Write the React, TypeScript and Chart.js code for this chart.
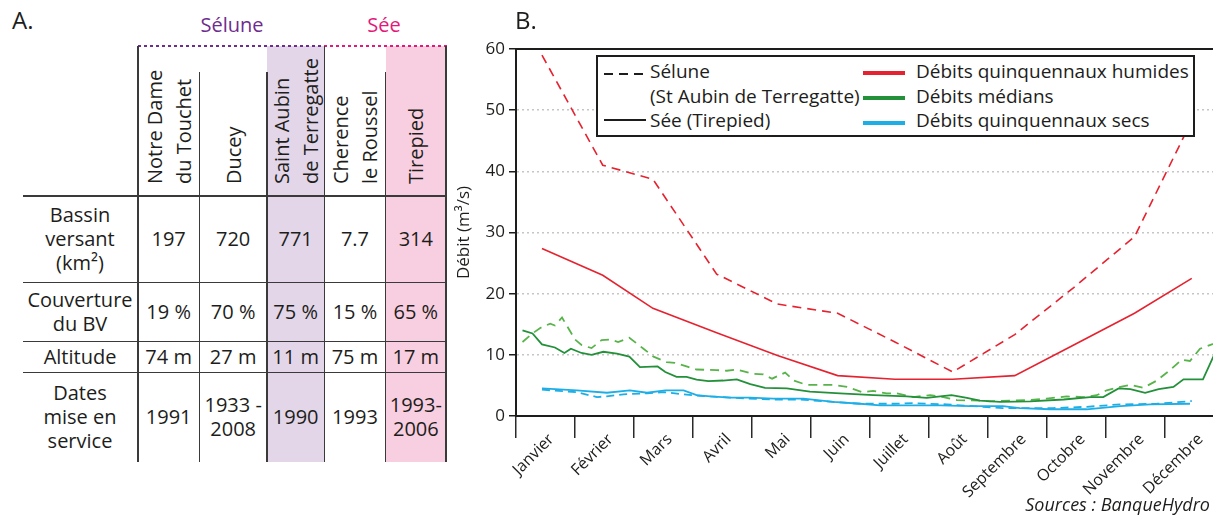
import React, { useEffect, useRef } from 'react';
import { Chart, registerables } from 'chart.js';

Chart.register(...registerables);

// ---------- Chart data ----------
const MONTHS = ['Janvier', 'Février', 'Mars', 'Avril', 'Mai', 'Juin', 'Juillet', 'Août', 'Septembre', 'Octobre', 'Novembre', 'Décembre'];

// x positions in months (0 = 1 Jan, 12 = 31 Dec)
const HUMIDE_X = [0.44, 1.47, 2.32, 3.4, 4.43, 5.45, 6.42, 7.4, 8.45, 9.45, 10.48, 11.45];
const SELUNE_HUMIDE = [59.0, 41.0, 38.7, 23.2, 18.3, 16.8, 12.1, 7.2, 13.3, 21.0, 29.3, 48.3];
const SEE_HUMIDE = [27.4, 23.0, 17.6, 13.6, 9.9, 6.6, 6.0, 6.0, 6.6, 11.6, 16.8, 22.5];

const SEE_MEDIAN_X = [0.11, 0.28, 0.44, 0.66, 0.82, 0.93, 1.11, 1.28, 1.48, 1.71, 1.92, 2.1, 2.4, 2.53, 2.72, 2.89, 3.06, 3.26, 3.51, 3.74, 3.97, 4.22, 4.59, 4.98, 5.49, 6.06, 6.62, 6.96, 7.19, 7.38, 7.64, 7.86, 8.2, 8.71, 9.28, 9.73, 9.95, 10.21, 10.41, 10.66, 10.89, 11.14, 11.31, 11.64, 11.9];
const SEE_MEDIAN = [14.0, 13.5, 11.7, 11.2, 10.3, 11.0, 10.3, 10.0, 10.5, 10.2, 9.7, 8.0, 8.1, 7.2, 6.4, 6.4, 5.95, 5.7, 5.8, 6.0, 5.2, 4.6, 4.5, 4.0, 3.7, 3.4, 3.2, 2.95, 3.2, 3.4, 2.95, 2.5, 2.3, 2.4, 2.7, 3.1, 3.1, 4.5, 4.4, 3.8, 4.4, 4.75, 6.0, 6.0, 11.5];

const SELUNE_MEDIAN_X = [0.11, 0.28, 0.41, 0.58, 0.66, 0.78, 1.0, 1.11, 1.28, 1.45, 1.59, 1.73, 1.92, 2.16, 2.33, 2.55, 2.69, 2.89, 3.06, 3.4, 3.57, 3.74, 4.02, 4.19, 4.34, 4.56, 4.71, 4.92, 5.38, 5.61, 5.86, 6.05, 6.28, 6.45, 6.73, 7.02, 7.24, 7.47, 7.86, 8.03, 8.37, 8.68, 8.99, 9.33, 9.62, 9.84, 10.01, 10.24, 10.41, 10.63, 10.86, 11.08, 11.28, 11.42, 11.59, 11.79, 11.93];
const SELUNE_MEDIAN = [12.1, 13.5, 14.4, 15.1, 14.8, 16.1, 12.5, 11.6, 11.1, 12.4, 12.5, 12.1, 12.8, 11.0, 9.7, 8.8, 8.7, 8.1, 7.6, 7.5, 7.4, 7.6, 6.9, 6.8, 6.1, 7.1, 5.8, 5.1, 5.1, 4.75, 3.9, 4.1, 3.7, 3.7, 3.1, 3.4, 3.1, 2.6, 2.5, 2.4, 2.5, 2.6, 2.85, 3.2, 3.1, 3.4, 4.2, 4.75, 5.1, 4.6, 5.8, 7.5, 9.2, 9.0, 11.0, 11.7, 12.0];

const SEE_SEC_X = [0.44, 1.03, 1.54, 1.93, 2.22, 2.53, 2.84, 3.06, 3.29, 3.63, 3.97, 4.36, 4.87, 5.38, 5.83, 6.17, 7.19, 7.69, 8.25, 8.54, 9.05, 9.67, 10.24, 10.75, 11.42];
const SEE_SEC = [4.5, 4.2, 3.8, 4.2, 3.8, 4.2, 4.2, 3.4, 3.2, 3.0, 3.0, 2.85, 2.85, 2.3, 2.0, 1.75, 1.75, 1.6, 1.6, 1.3, 1.1, 1.1, 1.6, 1.9, 2.0];

const SELUNE_SEC_X = [0.44, 1.03, 1.37, 1.54, 1.82, 2.22, 2.5, 2.84, 3.12, 3.63, 4.31, 4.81, 5.37, 5.83, 6.39, 6.73, 7.3, 7.75, 8.25, 9.1, 9.67, 10.24, 10.86, 11.45];
const SELUNE_SEC = [4.3, 3.9, 3.1, 3.2, 3.55, 3.7, 3.9, 3.55, 3.3, 3.0, 2.7, 2.7, 2.3, 2.0, 2.0, 2.1, 1.9, 1.6, 1.3, 1.3, 1.5, 1.9, 2.0, 2.45];

// ---------- Table data ----------
const STATIONS = ['Notre Dame\ndu Touchet', 'Ducey', 'Saint Aubin\nde Terregatte', 'Cherence\nle Roussel', 'Tirepied'];
const ROW_LABELS = ['Bassin\nversant\n(km²)', 'Couverture\ndu BV', 'Altitude', 'Dates\nmise en\nservice'];
const BASSIN = ['197', '720', '771', '7.7', '314'];
const COUVERTURE = ['19 %', '70 %', '75 %', '15 %', '65 %'];
const ALTITUDE = ['74 m', '27 m', '11 m', '75 m', '17 m'];
const DATES = ['1991', '1933 -\n2008', '1990', '1993', '1993-\n2006'];
const TABLE_ROWS = [BASSIN, COUVERTURE, ALTITUDE, DATES];

// ---------- Styles ----------
const FONT = "'Open Sans', 'Noto Sans', sans-serif";
const INK = '#1d1d1b';
const RED = '#e52330';
const GREEN = '#23903a';
const GREEN_L = '#58b44a';
const BLUE = '#1eaee6';
const PURPLE = '#6f2c8f';
const PINK = '#e5177b';

const COL_EDGES = [138, 199.3, 267, 324.3, 385.7, 446];
const COL_TOPS = [46, 72, 72, 46, 72, 46];
const ROW_EDGES = [196, 282.7, 341.7, 372.7, 462];

const pts = (xs: number[], ys: number[]) => xs.map((x, i) => ({ x, y: ys[i] }));

function DebitChart() {
  const ref = useRef<HTMLCanvasElement | null>(null);
  useEffect(() => {
    if (!ref.current) return;
    const XMAX = 11.81;
    const chart = new Chart(ref.current, {
      type: 'line',
      data: {
        datasets: [
          { label: 'Sée sec', data: pts(SEE_SEC_X, SEE_SEC), borderColor: BLUE, borderWidth: 1.8 },
          { label: 'Sélune sec', data: pts(SELUNE_SEC_X, SELUNE_SEC), borderColor: BLUE, borderWidth: 1.8, borderDash: [8, 5] },
          { label: 'Sée médian', data: pts(SEE_MEDIAN_X, SEE_MEDIAN), borderColor: GREEN, borderWidth: 1.8 },
          { label: 'Sélune médian', data: pts(SELUNE_MEDIAN_X, SELUNE_MEDIAN), borderColor: GREEN_L, borderWidth: 1.8, borderDash: [9, 6] },
          { label: 'Sée humide', data: pts(HUMIDE_X, SEE_HUMIDE), borderColor: RED, borderWidth: 1.6 },
          { label: 'Sélune humide', data: pts(HUMIDE_X, SELUNE_HUMIDE), borderColor: RED, borderWidth: 1.6, borderDash: [9, 6] },
        ],
      },
      options: {
        animation: false,
        responsive: false,
        devicePixelRatio: 1,
        layout: { padding: { top: 29, left: 0, right: 0, bottom: 0 } },
        elements: { point: { radius: 0 }, line: { tension: 0, fill: false } },
        plugins: { legend: { display: false }, tooltip: { enabled: false }, title: { display: false } },
        scales: {
          x: {
            type: 'linear',
            min: 0,
            max: XMAX,
            afterBuildTicks: (s: any) => {
              s.ticks = MONTHS.map((_, i) => ({ value: i + 0.5 }));
            },
            afterFit: (s: any) => {
              s.height = 99;
            },
            ticks: {
              autoSkip: false,
              minRotation: 45,
              maxRotation: 45,
              padding: -8,
              labelOffset: 6,
              color: INK,
              font: { family: FONT, size: 16 },
              callback: (_v: any, i: number) => MONTHS[i],
            },
            grid: { offset: true, drawOnChartArea: false, drawTicks: true, tickLength: 22, color: '#2a2a2a', lineWidth: 1.5 },
            border: { color: INK, width: 2 },
          },
          xTop: {
            type: 'linear',
            position: 'top',
            min: 0,
            max: XMAX,
            ticks: { display: false },
            grid: { display: false },
            border: { color: INK, width: 2 },
            afterFit: (s: any) => {
              s.height = 20;
            },
          },
          y: {
            min: 0,
            max: 60,
            ticks: { stepSize: 10, padding: 4, color: INK, font: { family: FONT, size: 17 } },
            grid: {
              color: (c: any) => (c.tick && (c.tick.value === 0 || c.tick.value === 60) ? 'rgba(0,0,0,0)' : '#c6c6c6'),
              lineWidth: 1.5,
              tickLength: 7,
              tickColor: INK,
              tickWidth: 1.5,
            },
            border: { color: INK, width: 2, dash: [2, 3] },
            title: { display: true, text: 'Débit (m³/s)', color: INK, font: { family: FONT, size: 17 }, padding: { top: 14, bottom: 0 } },
            afterFit: (s: any) => {
              s.width = 76;
            },
          },
        },
      } as any,
    });
    return () => chart.destroy();
  }, []);
  return <canvas ref={ref} width={773} height={515} style={{ position: 'absolute', left: 440, top: 0, width: 773, height: 515 }} />;
}

const abs = (s: React.CSSProperties): React.CSSProperties => ({ position: 'absolute', ...s });

function LineSample({ left, top, color, width, dash }: { left: number; top: number; color: string; width: number; dash?: boolean }) {
  return (
    <div
      style={abs({
        left,
        top: top - width / 2,
        width: 42,
        height: width,
        background: dash ? `repeating-linear-gradient(to right, ${color} 0 9px, transparent 9px 15px)` : color,
      })}
    />
  );
}

function LegendText({ left, cy, text }: { left: number; cy: number; text: string }) {
  return <div style={abs({ left, top: cy - 12, lineHeight: '24px', fontSize: 19, whiteSpace: 'nowrap', color: INK })}>{text}</div>;
}

function Legend() {
  return (
    <div style={abs({ left: 596, top: 55, width: 599, height: 82, border: `2px solid ${INK}`, background: '#fff', boxSizing: 'border-box' })}>
      <LineSample left={6} top={17} color={INK} width={2} dash />
      <LegendText left={52} cy={14} text="Sélune" />
      <LegendText left={52} cy={39} text="(St Aubin de Terregatte)" />
      <LineSample left={6} top={63} color={INK} width={2} />
      <LegendText left={52} cy={63} text="Sée (Tirepied)" />
      <LineSample left={265} top={16} color={RED} width={4} />
      <LegendText left={318} cy={14} text="Débits quinquennaux humides" />
      <LineSample left={265} top={41} color={GREEN} width={4} />
      <LegendText left={318} cy={39} text="Débits médians" />
      <LineSample left={265} top={66} color={BLUE} width={4} />
      <LegendText left={318} cy={63} text="Débits quinquennaux secs" />
    </div>
  );
}

function Table() {
  const lineCol = '#3a3a3a';
  const els: React.ReactNode[] = [];
  // shaded columns
  els.push(<div key="shP" style={abs({ left: COL_EDGES[2], top: 46, width: COL_EDGES[3] - COL_EDGES[2], height: 462 - 46, background: '#e2d6e8' })} />);
  els.push(<div key="shS" style={abs({ left: COL_EDGES[4], top: 46, width: COL_EDGES[5] - COL_EDGES[4], height: 462 - 46, background: '#f8cfe0' })} />);
  // dotted river lines
  els.push(<div key="dP" style={abs({ left: COL_EDGES[0], top: 44.5, width: COL_EDGES[3] - COL_EDGES[0], height: 2, background: `repeating-linear-gradient(to right, ${PURPLE} 0 3px, transparent 3px 6px)` })} />);
  els.push(<div key="dS" style={abs({ left: COL_EDGES[3], top: 44.5, width: COL_EDGES[5] - COL_EDGES[3] + 1, height: 2, background: `repeating-linear-gradient(to right, ${PINK} 0 3px, transparent 3px 6px)` })} />);
  // vertical lines
  COL_EDGES.forEach((x, i) => {
    els.push(<div key={'v' + i} style={abs({ left: x - 0.75, top: COL_TOPS[i], width: 1.5, height: 462 - COL_TOPS[i], background: lineCol })} />);
  });
  // horizontal lines
  ROW_EDGES.slice(0, 4).forEach((y, i) => {
    els.push(<div key={'h' + i} style={abs({ left: 22.5, top: y - 0.75, width: 446 - 22.5, height: 1.5, background: lineCol })} />);
  });
  // header (rotated)
  STATIONS.forEach((s, i) => {
    const n = s.split('\n').length;
    const cx = (COL_EDGES[i] + COL_EDGES[i + 1]) / 2;
    els.push(
      <div
        key={'st' + i}
        style={abs({
          left: cx - (n * 29) / 2,
          top: 184,
          transformOrigin: '0 0',
          transform: 'rotate(-90deg)',
          whiteSpace: 'pre',
          lineHeight: '29px',
          fontSize: 20,
          color: INK,
        })}
      >
        {s}
      </div>
    );
  });
  // body cells
  ROW_LABELS.forEach((lab, r) => {
    const y0 = ROW_EDGES[r];
    const y1 = ROW_EDGES[r + 1];
    const cellStyle = (x0: number, x1: number): React.CSSProperties =>
      abs({
        left: x0,
        width: x1 - x0,
        top: y0,
        height: y1 - y0,
        display: 'flex',
        alignItems: 'center',
        justifyContent: 'center',
        textAlign: 'center',
        whiteSpace: 'pre',
        lineHeight: '24px',
        fontSize: 20,
        color: INK,
      });
    els.push(<div key={'rl' + r} style={cellStyle(22, 138)}>{lab}</div>);
    TABLE_ROWS[r].forEach((v, c) => {
      els.push(<div key={'c' + r + '-' + c} style={cellStyle(COL_EDGES[c], COL_EDGES[c + 1])}>{v}</div>);
    });
  });
  return <>{els}</>;
}

export default function App() {
  return (
    <div style={abs({ left: 0, top: 0, width: 1213, height: 515, overflow: 'hidden', background: '#fff', fontFamily: FONT, color: INK })}>
      <Table />
      <div style={abs({ left: 12, top: 4, fontSize: 24, lineHeight: '32px' })}>A.</div>
      <div style={abs({ left: 200, top: 12, width: 64, textAlign: 'center', fontSize: 20, lineHeight: '26px', color: PURPLE })}>Sélune</div>
      <div style={abs({ left: 354, top: 12, width: 60, textAlign: 'center', fontSize: 20, lineHeight: '26px', color: PINK })}>Sée</div>
      <DebitChart />
      <div style={abs({ left: 515, top: 4, fontSize: 24, lineHeight: '32px' })}>B.</div>
      <Legend />
      <div style={abs({ right: 3, top: 493, fontSize: 18, lineHeight: '22px', fontStyle: 'italic', whiteSpace: 'nowrap' })}>Sources : BanqueHydro</div>
    </div>
  );
}
